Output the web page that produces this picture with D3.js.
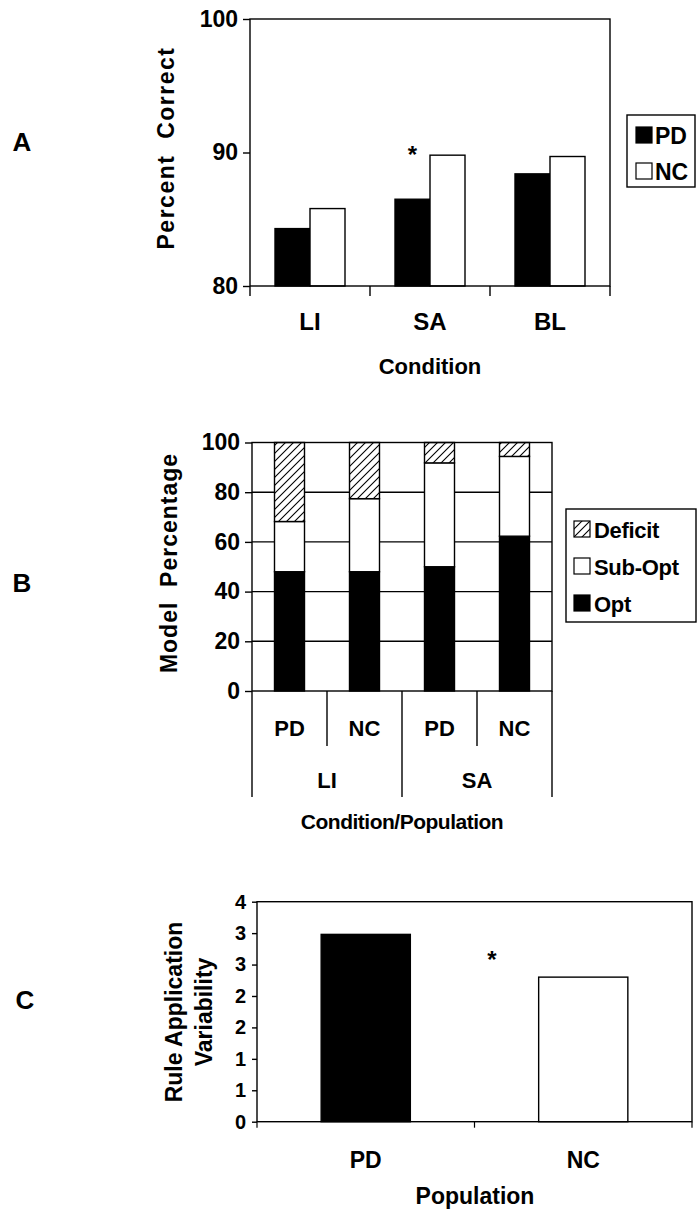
<!DOCTYPE html>
<html>
<head>
<meta charset="utf-8">
<script src="https://cdn.jsdelivr.net/npm/d3@7"></script>
<style>
  body { margin: 0; background: #fff; }
  svg text { font-family: 'Liberation Sans', Arial, sans-serif; font-weight: bold; fill: #000; }
</style>
</head>
<body>
<div id="chart"></div>
<script>
// panel A: percent correct by condition
let conditionsA = ['LI', 'SA', 'BL']
let groupsA = ['PD', 'NC']
let pdCorrect = [84.3, 86.5, 88.4]
let ncCorrect = [85.8, 89.8, 89.7]
let ticksA = [80, 90, 100]

// panel B: model percentages (stacked)
let barsB = ['LI-PD', 'LI-NC', 'SA-PD', 'SA-NC']
let popsB = ['PD', 'NC', 'PD', 'NC']
let condsB = ['LI', 'SA']
let optPct = [48, 48, 50, 62.3]
let subOptPct = [20.2, 29.4, 41.8, 32.1]
let deficitPct = [31.8, 22.6, 8.2, 5.6]
let keysB = ['Opt', 'Sub-Opt', 'Deficit']
let ticksB = [0, 20, 40, 60, 80, 100]

// panel C: rule application variability
let popsC = ['PD', 'NC']
let variability = [2.98, 2.3]
let ticksC = [0, 0.5, 1, 1.5, 2, 2.5, 3, 3.5]
let tickLabelsC = ['0', '1', '1', '2', '2', '3', '3', '4']

let width = 697
let height = 1211

let svg = d3
  .select('#chart')
  .append('svg')
  .attr('width', width)
  .attr('height', height)

let defs = svg.append('defs')
let hatch = defs
  .append('pattern')
  .attr('id', 'hatch')
  .attr('patternUnits', 'userSpaceOnUse')
  .attr('width', 8)
  .attr('height', 8)
hatch.append('rect').attr('width', 8).attr('height', 8).attr('fill', '#fff')
hatch
  .append('path')
  .attr('d', 'M-2,2 L2,-2 M0,8 L8,0 M6,10 L10,6')
  .attr('stroke', '#000')
  .attr('stroke-width', 1.1)

let stroke = 1.4

function panelLetter(txt, x, y) {
  svg.append('text')
    .attr('x', x).attr('y', y)
    .attr('text-anchor', 'middle')
    .attr('dominant-baseline', 'central')
    .style('font-size', '26px')
    .text(txt)
}

function yTitle(lines, x, y, size, spacing, lineGap) {
  let t = svg.append('text')
    .attr('transform', `translate(${x},${y}) rotate(-90)`)
    .attr('text-anchor', 'middle')
    .style('font-size', size + 'px')
    .style('letter-spacing', spacing + 'px')
    .style('white-space', 'pre')
  lines.forEach((l, i) => {
    t.append('tspan')
      .attr('x', 0)
      .attr('dy', i === 0 ? 0 : lineGap)
      .text(l)
  })
}

// ---------------- Panel A ----------------
let gA = svg.append('g')
let yA = d3.scaleLinear().domain([80, 100]).range([286, 19])
let xA = d3.scaleBand().domain(conditionsA).range([250, 610])
let xSubA = d3.scaleBand().domain(groupsA).range([25, 95])

let rowsA = conditionsA.map((c, i) => ({ cond: c, PD: pdCorrect[i], NC: ncCorrect[i] }))

gA.selectAll('.cond')
  .data(rowsA)
  .enter()
  .append('g')
  .attr('transform', d => `translate(${xA(d.cond)},0)`)
  .each(function(d) {
    d3.select(this)
      .selectAll('rect')
      .data(groupsA)
      .enter()
      .append('rect')
      .attr('x', g => xSubA(g))
      .attr('width', xSubA.bandwidth())
      .attr('y', g => yA(d[g]))
      .attr('height', g => yA(80) - yA(d[g]))
      .attr('fill', g => (g === 'PD' ? '#000' : '#fff'))
      .attr('stroke', '#000')
      .attr('stroke-width', stroke)
  })

gA.append('rect')
  .attr('x', 250).attr('y', yA(100))
  .attr('width', 360).attr('height', yA(80) - yA(100))
  .attr('fill', 'none').attr('stroke', '#000').attr('stroke-width', stroke)

let axA = gA.append('g')
  .attr('transform', 'translate(250,0)')
  .call(d3.axisLeft(yA).tickValues(ticksA).tickSize(7).tickPadding(5))
axA.select('.domain').remove()
axA.selectAll('line').attr('stroke-width', stroke)
axA.selectAll('text').style('font-size', '23px')

// category boundary ticks
gA.selectAll('.xtick')
  .data(conditionsA.map(c => xA(c)).concat([xA.range()[1]]))
  .enter()
  .append('line')
  .attr('x1', d => d).attr('x2', d => d)
  .attr('y1', yA(80)).attr('y2', yA(80) + 10)
  .attr('stroke', '#000').attr('stroke-width', stroke)

gA.selectAll('.xlab')
  .data(conditionsA)
  .enter()
  .append('text')
  .attr('x', d => xA(d) + xA.bandwidth() / 2)
  .attr('y', 321)
  .attr('text-anchor', 'middle')
  .attr('dominant-baseline', 'central')
  .style('font-size', '24px')
  .text(d => d)

gA.append('text')
  .attr('x', 430).attr('y', 366)
  .attr('text-anchor', 'middle')
  .attr('dominant-baseline', 'central')
  .style('font-size', '22px')
  .text('Condition')

gA.append('text')
  .attr('x', xA('SA') + xSubA('PD') + xSubA.bandwidth() / 2)
  .attr('y', 163)
  .attr('text-anchor', 'middle')
  .style('font-size', '24px')
  .text('*')

yTitle(['Percent  Correct'], 174, 148, 23, 1.5, 0)
panelLetter('A', 22, 142)

// legend A
let legA = gA.append('g')
legA.append('rect')
  .attr('x', 627).attr('y', 115).attr('width', 68).attr('height', 72)
  .attr('fill', '#fff').attr('stroke', '#000').attr('stroke-width', stroke)
legA.selectAll('.item')
  .data(groupsA)
  .enter()
  .append('g')
  .attr('transform', (d, i) => `translate(636,${135 + i * 36})`)
  .each(function(d) {
    let g = d3.select(this)
    g.append('rect')
      .attr('x', 0).attr('y', -8).attr('width', 16).attr('height', 16)
      .attr('fill', d === 'PD' ? '#000' : '#fff')
      .attr('stroke', '#000').attr('stroke-width', 1.2)
    g.append('text')
      .attr('x', 19).attr('y', 1)
      .attr('dominant-baseline', 'central')
      .style('font-size', '23px')
      .text(d)
  })

// ---------------- Panel B ----------------
let gB = svg.append('g')
let yB = d3.scaleLinear().domain([0, 100]).range([691, 442.5])
let xB = d3.scaleBand().domain(barsB).range([252, 552]).paddingInner(0.6).paddingOuter(0.3)
let stepB = xB.step()

let rowsB = barsB.map((b, i) => ({ bar: b, 'Opt': optPct[i], 'Sub-Opt': subOptPct[i], 'Deficit': deficitPct[i] }))
let stackedB = d3.stack().keys(keysB)(rowsB)
let fillB = { 'Opt': '#000', 'Sub-Opt': '#fff', 'Deficit': 'url(#hatch)' }

gB.selectAll('.grid')
  .data(ticksB.slice(1, -1))
  .enter()
  .append('line')
  .attr('x1', 252).attr('x2', 552)
  .attr('y1', d => yB(d)).attr('y2', d => yB(d))
  .attr('stroke', '#000').attr('stroke-width', stroke)

gB.selectAll('.layer')
  .data(stackedB)
  .enter()
  .append('g')
  .attr('fill', d => fillB[d.key])
  .selectAll('rect')
  .data(d => d)
  .enter()
  .append('rect')
  .attr('x', d => xB(d.data.bar))
  .attr('width', xB.bandwidth())
  .attr('y', d => yB(d[1]))
  .attr('height', d => yB(d[0]) - yB(d[1]))
  .attr('stroke', '#000')
  .attr('stroke-width', stroke)

gB.append('rect')
  .attr('x', 252).attr('y', yB(100))
  .attr('width', 300).attr('height', yB(0) - yB(100))
  .attr('fill', 'none').attr('stroke', '#000').attr('stroke-width', stroke)

let axB = gB.append('g')
  .attr('transform', 'translate(252,0)')
  .call(d3.axisLeft(yB).tickValues(ticksB).tickSize(7).tickPadding(5))
axB.select('.domain').remove()
axB.selectAll('line').attr('stroke-width', stroke)
axB.selectAll('text').style('font-size', '23px')

// two-level category axis
let bandStarts = barsB.map(b => xB(b) - xB.step() * xB.paddingInner() / 2)
gB.selectAll('.popdiv')
  .data(bandStarts.concat([552]))
  .enter()
  .append('line')
  .attr('x1', d => d).attr('x2', d => d)
  .attr('y1', yB(0))
  .attr('y2', (d, i) => (i % 2 === 0 ? 797 : 746))
  .attr('stroke', '#000').attr('stroke-width', stroke)

gB.selectAll('.poplab')
  .data(barsB)
  .enter()
  .append('text')
  .attr('x', d => xB(d) + xB.bandwidth() / 2)
  .attr('y', 728)
  .attr('text-anchor', 'middle')
  .attr('dominant-baseline', 'central')
  .style('font-size', '22px')
  .text((d, i) => popsB[i])

gB.selectAll('.condlab')
  .data(condsB)
  .enter()
  .append('text')
  .attr('x', (d, i) => bandStarts[i * 2] + stepB)
  .attr('y', 780)
  .attr('text-anchor', 'middle')
  .attr('dominant-baseline', 'central')
  .style('font-size', '22px')
  .text(d => d)

gB.append('text')
  .attr('x', 402).attr('y', 821)
  .attr('text-anchor', 'middle')
  .attr('dominant-baseline', 'central')
  .style('font-size', '21px')
  .style('letter-spacing', '-0.5px')
  .text('Condition/Population')

yTitle(['Model  Percentage'], 177, 563, 23, 1, 0)
panelLetter('B', 22, 583)

// legend B
let legB = gB.append('g')
legB.append('rect')
  .attr('x', 566).attr('y', 509).attr('width', 130).attr('height', 113)
  .attr('fill', '#fff').attr('stroke', '#000').attr('stroke-width', stroke)
legB.selectAll('.item')
  .data(keysB.slice().reverse())
  .enter()
  .append('g')
  .attr('transform', (d, i) => `translate(574,${529 + i * 37})`)
  .each(function(d) {
    let g = d3.select(this)
    g.append('rect')
      .attr('x', 0).attr('y', -8).attr('width', 16).attr('height', 16)
      .attr('fill', fillB[d])
      .attr('stroke', '#000').attr('stroke-width', 1.2)
    g.append('text')
      .attr('x', 20).attr('y', 1)
      .attr('dominant-baseline', 'central')
      .style('font-size', '22px')
      .style('letter-spacing', '-0.3px')
      .text(d)
  })

// ---------------- Panel C ----------------
let gC = svg.append('g')
let yC = d3.scaleLinear().domain([0, 3.5]).range([1121.7, 901.7])
let xC = d3.scaleBand().domain(popsC).range([257, 692]).paddingInner(0.59).paddingOuter(0.295)

gC.selectAll('.bar')
  .data(popsC)
  .enter()
  .append('rect')
  .attr('x', d => xC(d))
  .attr('width', xC.bandwidth())
  .attr('y', (d, i) => yC(variability[i]))
  .attr('height', (d, i) => yC(0) - yC(variability[i]))
  .attr('fill', d => (d === 'PD' ? '#000' : '#fff'))
  .attr('stroke', '#000').attr('stroke-width', stroke)

gC.append('rect')
  .attr('x', 257).attr('y', yC(3.5))
  .attr('width', 435).attr('height', yC(0) - yC(3.5))
  .attr('fill', 'none').attr('stroke', '#000').attr('stroke-width', stroke)

let axC = gC.append('g')
  .attr('transform', 'translate(257,0)')
  .call(d3.axisLeft(yC).tickValues(ticksC).tickSize(5).tickPadding(6)
    .tickFormat((d, i) => tickLabelsC[i]))
axC.select('.domain').remove()
axC.selectAll('line').attr('stroke-width', stroke)
axC.selectAll('text').style('font-size', '20px')

gC.selectAll('.xtick')
  .data([257, 474.5, 692])
  .enter()
  .append('line')
  .attr('x1', d => d).attr('x2', d => d)
  .attr('y1', yC(0)).attr('y2', yC(0) + 6)
  .attr('stroke', '#000').attr('stroke-width', 1.2)

gC.selectAll('.xlab')
  .data(popsC)
  .enter()
  .append('text')
  .attr('x', d => xC(d) + xC.bandwidth() / 2)
  .attr('y', 1160)
  .attr('text-anchor', 'middle')
  .attr('dominant-baseline', 'central')
  .style('font-size', '23px')
  .text(d => d)

gC.append('text')
  .attr('x', 475).attr('y', 1196)
  .attr('text-anchor', 'middle')
  .attr('dominant-baseline', 'central')
  .style('font-size', '23px')
  .text('Population')

gC.append('text')
  .attr('x', 492).attr('y', 968)
  .attr('text-anchor', 'middle')
  .style('font-size', '24px')
  .text('*')

yTitle(['Rule Application', 'Variability'], 182, 1012, 23, 0, 30)
panelLetter('C', 25, 1000)
</script>
</body>
</html>
